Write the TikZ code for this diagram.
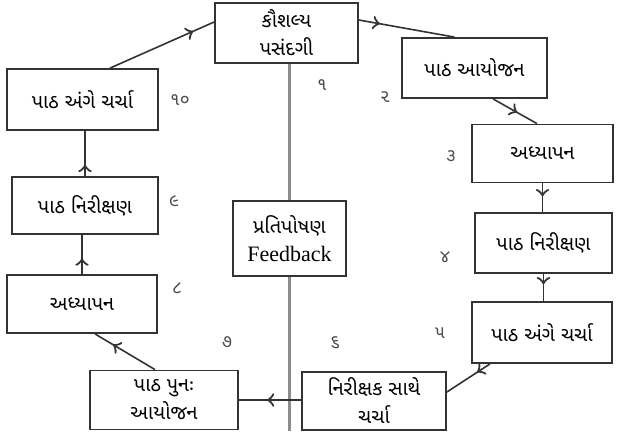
\documentclass[tikz,border=0pt]{standalone}
\usepackage{fontspec}
\setmainfont{Liberation Serif}
\newfontfamily\guj[Script=Gujarati]{Noto Sans Gujarati UI}
\usetikzlibrary{decorations.markings}

\tikzset{
  stepbox/.style={draw=black!80, line width=0.9pt, align=center, inner sep=2pt,
    font=\guj\fontsize{10}{14}\selectfont},
  plainline/.style={draw=black!45, line width=1.1pt},
  flow/.style={draw=black!80, line width=0.8pt, postaction={decorate},
    decoration={markings, mark=at position #1 with {\arrow[scale=1.4]{>}}}},
  flow/.default=0.55,
  numlabel/.style={font=\guj\fontsize{9}{10}\selectfont, text=black!70}
}

\begin{document}
\begin{tikzpicture}[x=0.5pt, y=-0.5pt]
        \useasboundingbox (0,0) rectangle (617,441);

        % Draw boxes
        \node[stepbox, minimum width=71.5pt, minimum height=30pt] (skill) at (286.5, 33) {કૌશલ્ય\\પસંદગી};
        \node[stepbox, minimum width=72.5pt, minimum height=30pt] (plan) at (474.5, 68) {પાઠ આયોજન};
        \node[stepbox, minimum width=70.5pt, minimum height=29pt] (teach) at (542.5, 153.5) {અધ્યાપન};
        \node[stepbox, minimum width=68.5pt, minimum height=30pt] (observe) at (543.5, 243) {પાઠ નિરીક્ષણ};
        \node[stepbox, minimum width=70pt, minimum height=30.5pt] (discuss) at (542, 332.5) {પાઠ અંગે ચર્ચા};
        \node[stepbox, minimum width=72pt, minimum height=29pt] (observer) at (374, 401) {નિરીક્ષક સાથે\\ચર્ચા};
        \node[stepbox, minimum width=56.5pt, minimum height=37.5pt] (feedback) at (289.5, 238.5) {પ્રતિપોષણ\\{\rmfamily\fontsize{11}{14}\selectfont Feedback}};
        \node[stepbox, minimum width=74pt, minimum height=29.5pt] (replan) at (164, 400) {પાઠ પુનઃ\\આયોજન};
        \node[stepbox, minimum width=75pt, minimum height=29pt] (reteach) at (82, 304) {અધ્યાપન};
        \node[stepbox, minimum width=73pt, minimum height=28.5pt] (reobserve) at (85, 205.5) {પાઠ નિરીક્ષણ};
        \node[stepbox, minimum width=75.5pt, minimum height=30.5pt] (rediscuss) at (82.5, 99.5) {પાઠ અંગે ચર્ચા};

        % Draw step numbers
        \node[numlabel] (n1) at (322, 85) {૧};
        \node[numlabel] (n2) at (385, 97) {૨};
        \node[numlabel] (n3) at (451, 156) {૩};
        \node[numlabel] (n4) at (445, 257) {૪};
        \node[numlabel] (n5) at (440, 333) {૫};
        \node[numlabel] (n6) at (335, 343) {૬};
        \node[numlabel] (n7) at (227, 342) {૭};
        \node[numlabel] (n8) at (177, 288) {૮};
        \node[numlabel] (n9) at (174, 201) {૯};
        \node[numlabel] (n10) at (180, 100) {૧૦};

        % Draw feedback lines
        \draw[plainline] (feedback.north) -- (feedback.north |- skill.south);
        \draw[plainline] (feedback.south) -- (feedback.south |- observer.south);

        % Draw cycle
        \draw[flow=0.22] ([yshift=6.5pt]skill.east) -- ([xshift=-10pt]plan.north);
        \draw[flow] ([xshift=9.25pt]plan.south) -- ([xshift=-2.75pt]teach.north);
        \draw[flow=0.45] (teach.south) -- (teach.south |- observe.north);
        \draw[flow=0.38] (observe.south) -- (observe.south |- discuss.north);
        \draw[flow=0.3] ([xshift=-26pt]discuss.south) -- ([yshift=4.5pt]observer.east);
        \draw[flow=0.55] (observer.west |- replan.east) -- (replan.east);
        \draw[flow=0.7] ([xshift=-4.5pt]replan.north) -- ([xshift=6.5pt]reteach.south);
        \draw[flow=0.4] (reteach.north) -- (reteach.north |- reobserve.south);
        \draw[flow=0.25] (reobserve.north) -- (reobserve.north |- rediscuss.south);
        \draw[flow=0.8] ([xshift=13.75pt]rediscuss.north) -- ([yshift=5.5pt]skill.west);
    \end{tikzpicture}
\end{document}
